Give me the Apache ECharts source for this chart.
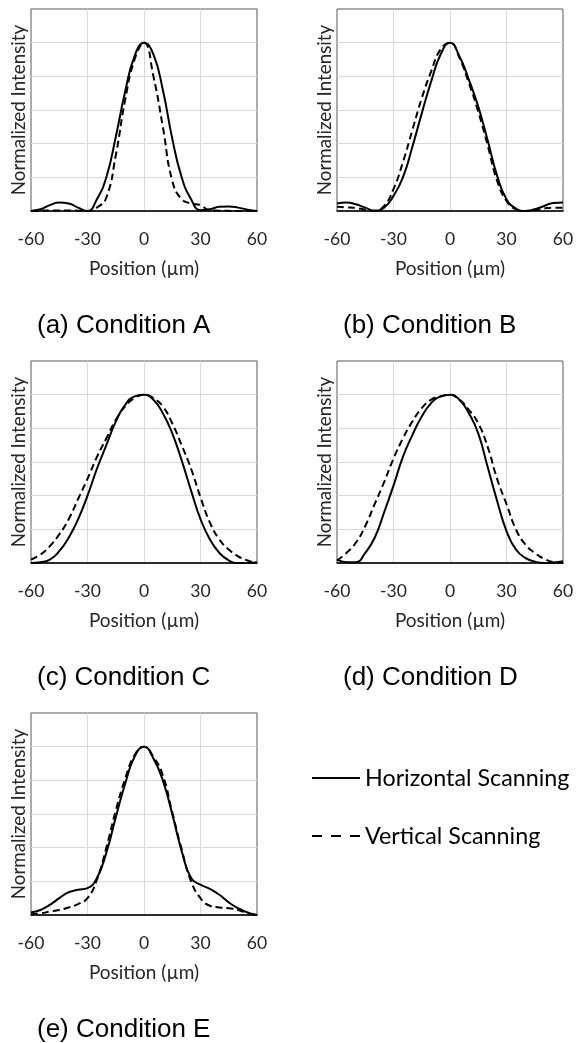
<!DOCTYPE html>
<html>
<head>
<meta charset="utf-8">
<script src="https://cdn.jsdelivr.net/npm/echarts@6/dist/echarts.min.js"></script>
<style>
  html, body { margin: 0; padding: 0; background: #fff; }
  #main { width: 578px; height: 1043px; }
</style>
</head>
<body>
<div id="main"></div>
<script>
// positions (um) shared by every profile
var positions = [-60, -55, -50, -45, -40, -35, -30, -25, -20, -15, -10, -5, 0, 5, 10, 15, 20, 25, 30, 35, 40, 45, 50, 55, 60];
var xTicks = [-60, -30, 0, 30, 60];

// (a) Condition A
var horizA = [0, 0.01, 0.035, 0.05, 0.045, 0.02, 0, 0.07, 0.2, 0.44, 0.71, 0.92, 1.0, 0.93, 0.72, 0.43, 0.2, 0.07, 0.005, 0.01, 0.025, 0.027, 0.02, 0.008, 0];
var vertA = [0, 0.002, 0.003, 0.003, 0.003, 0.002, 0, 0.02, 0.08, 0.33, 0.66, 0.9, 1.0, 0.8, 0.5, 0.18, 0.07, 0.045, 0.035, 0.003, 0.002, 0.001, 0, 0, 0];
// (b) Condition B
var horizB = [0.045, 0.05, 0.04, 0.02, 0.002, 0.02, 0.09, 0.2, 0.38, 0.58, 0.77, 0.93, 1.0, 0.92, 0.78, 0.62, 0.42, 0.21, 0.07, 0.015, 0, 0.01, 0.03, 0.048, 0.05];
var vertB = [0.025, 0.022, 0.018, 0.008, 0.001, 0.03, 0.13, 0.29, 0.48, 0.67, 0.83, 0.96, 1.0, 0.91, 0.76, 0.59, 0.39, 0.18, 0.06, 0.01, 0, 0.005, 0.015, 0.02, 0.02];
// (c) Condition C
var horizC = [0, 0.005, 0.02, 0.07, 0.15, 0.26, 0.4, 0.56, 0.7, 0.84, 0.94, 0.99, 1.0, 0.97, 0.89, 0.77, 0.61, 0.43, 0.26, 0.14, 0.06, 0.015, 0, 0, 0.005];
var vertC = [0.02, 0.05, 0.1, 0.17, 0.26, 0.38, 0.5, 0.63, 0.74, 0.85, 0.93, 0.98, 1.0, 0.98, 0.93, 0.83, 0.7, 0.56, 0.39, 0.24, 0.14, 0.08, 0.04, 0.015, 0];
// (d) Condition D
var horizD = [0.02, 0.005, 0.005, 0.06, 0.15, 0.3, 0.46, 0.63, 0.76, 0.87, 0.95, 0.99, 1.0, 0.97, 0.89, 0.77, 0.57, 0.37, 0.19, 0.08, 0.03, 0.008, 0, 0.003, 0.01];
var vertD = [0.015, 0.06, 0.12, 0.22, 0.35, 0.48, 0.62, 0.74, 0.84, 0.92, 0.97, 0.99, 1.0, 0.97, 0.91, 0.83, 0.69, 0.5, 0.35, 0.2, 0.11, 0.06, 0.025, 0.005, 0];
// (e) Condition E
var horizE = [0.015, 0.03, 0.06, 0.1, 0.135, 0.15, 0.16, 0.22, 0.37, 0.58, 0.78, 0.94, 1.0, 0.93, 0.8, 0.6, 0.38, 0.22, 0.18, 0.155, 0.12, 0.075, 0.04, 0.015, 0];
var vertE = [0.005, 0.01, 0.02, 0.03, 0.045, 0.065, 0.1, 0.21, 0.4, 0.62, 0.81, 0.95, 1.0, 0.94, 0.83, 0.61, 0.39, 0.2, 0.1, 0.055, 0.045, 0.04, 0.03, 0.01, 0];

var panelTitles = ['(a) Condition A', '(b) Condition B', '(c) Condition C', '(d) Condition D', '(e) Condition E'];
var horizSets = [horizA, horizB, horizC, horizD, horizE];
var vertSets = [vertA, vertB, vertC, vertD, vertE];

var myChart = echarts.init(document.getElementById('main'));

var axisFont = 'Lato';
var gridLeft = [31, 337, 31, 337, 31];
var gridTop = [9, 9, 361, 361, 713];
var titleTop = [313, 313, 665, 665, 1017];

var grids = [], xAxes = [], yAxes = [], titles = [], series = [];
function pairs(arr) {
  return positions.map(function (x, i) { return [x, arr[i]]; });
}

for (var i = 0; i < 5; i++) {
  grids.push({
    left: gridLeft[i], top: gridTop[i], width: 226, height: 202,
    show: true, borderColor: '#595959', borderWidth: 1, backgroundColor: '#fff'
  });
  xAxes.push({
    gridIndex: i, type: 'value', min: xTicks[0], max: xTicks[xTicks.length - 1], interval: 30,
    name: 'Position (µm)', nameLocation: 'middle', nameGap: 48,
    nameTextStyle: { fontFamily: axisFont, fontSize: 19, color: '#262626' },
    axisLine: { show: true, lineStyle: { color: '#000', width: 1.5 } },
    axisTick: { show: false },
    axisLabel: { margin: 19, fontFamily: axisFont, fontSize: 17.5, color: '#262626' },
    splitLine: { show: true, showMinLine: false, showMaxLine: false, lineStyle: { color: '#d9d9d9', width: 1 } }
  });
  yAxes.push({
    gridIndex: i, type: 'value', min: 0, max: 1.2, interval: 0.2,
    name: 'Normalized Intensity', nameLocation: 'middle', nameGap: 3,
    nameTextStyle: { fontFamily: axisFont, fontSize: 18.8, color: '#262626' },
    axisLine: { show: false },
    axisTick: { show: false },
    axisLabel: { show: false },
    splitLine: { show: true, showMinLine: false, showMaxLine: false, lineStyle: { color: '#d9d9d9', width: 1 } }
  });
  titles.push({
    text: panelTitles[i], left: gridLeft[i] + 6, top: titleTop[i], padding: 0,
    textStyle: { fontFamily: 'Liberation Sans', fontSize: 26, fontWeight: 'normal', color: '#000', lineHeight: 26 }
  });
  series.push({
    name: 'Horizontal Scanning', type: 'line', xAxisIndex: i, yAxisIndex: i,
    data: pairs(horizSets[i]), smooth: 0.5, symbol: 'none',
    lineStyle: { color: '#000', width: 2, type: 'solid' }, itemStyle: { color: '#000' }
  });
  series.push({
    name: 'Vertical Scanning', type: 'line', xAxisIndex: i, yAxisIndex: i,
    data: pairs(vertSets[i]), smooth: 0.5, symbol: 'none',
    lineStyle: { color: '#000', width: 2, type: [7, 4] }, itemStyle: { color: '#000' }
  });
}

var option = {
  animation: false,
  backgroundColor: '#fff',
  title: titles,
  legend: {
    orient: 'vertical', left: 311, top: 766, padding: 0,
    itemWidth: 48, itemHeight: 14, itemGap: 34,
    itemStyle: { opacity: 0 },
    textStyle: { fontFamily: axisFont, fontSize: 23.3, color: '#000', lineHeight: 24 },
    data: [
      { name: 'Horizontal Scanning', itemStyle: { opacity: 0 }, lineStyle: { type: 'solid', width: 2 } },
      { name: 'Vertical Scanning', itemStyle: { opacity: 0 }, lineStyle: { type: [10, 9], width: 2 } }
    ]
  },
  grid: grids,
  xAxis: xAxes,
  yAxis: yAxes,
  series: series
};

myChart.setOption(option);
window.onresize = myChart.resize;
</script>
</body>
</html>
